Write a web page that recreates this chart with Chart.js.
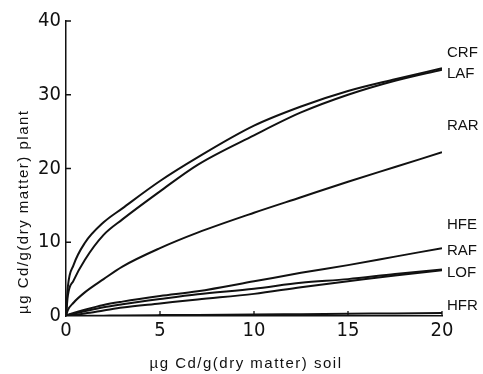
<!DOCTYPE html>
<html>
<head>
<meta charset="utf-8">
<script src="https://cdn.jsdelivr.net/npm/chart.js@4/dist/chart.umd.min.js"></script>
<style>
  html, body { margin: 0; padding: 0; background: #fff; }
  #wrap { width: 483px; height: 374px; }
</style>
</head>
<body>
<div id="wrap"><canvas id="cd-chart"></canvas></div>
<script>
// soil Cd (x) and plant Cd (y)
const soilCd = [0, 0.1, 0.4, 1, 2, 3, 5, 7, 10, 12.5, 15, 17.5, 20];
const seriesNames = ['CRF', 'LAF', 'RAR', 'HFE', 'RAF', 'LOF', 'HFR'];
const crf = [0, 4.0, 6.9, 9.9, 12.7, 14.6, 18.3, 21.5, 25.8, 28.4, 30.5, 32.1, 33.6];
const laf = [0, 2.8, 4.8, 7.6, 11.0, 13.1, 16.9, 20.5, 24.5, 27.6, 30.0, 31.9, 33.4];
const rar = [0, 0.8, 1.8, 3.2, 5.0, 6.7, 9.2, 11.3, 14.0, 16.1, 18.2, 20.2, 22.2];
const hfe = [0, 0.15, 0.4, 0.85, 1.5, 1.95, 2.7, 3.35, 4.7, 5.85, 6.9, 8.05, 9.2];
const raf = [0, 0.1, 0.3, 0.65, 1.2, 1.6, 2.3, 2.95, 3.7, 4.5, 5.0, 5.7, 6.3];
const lof = [0, 0.05, 0.15, 0.35, 0.75, 1.15, 1.7, 2.25, 3.0, 3.9, 4.7, 5.5, 6.2];
const hfr = [0, 0, 0, 0.02, 0.05, 0.08, 0.12, 0.15, 0.2, 0.25, 0.3, 0.35, 0.4];
const allSeries = [crf, laf, rar, hfe, raf, lof, hfr];

const xTicks = [0, 5, 10, 15, 20];
const yTicks = [0, 10, 20, 30, 40];
const xTitle = 'µg Cd/g(dry matter) soil';
const yTitle = 'µg Cd/g(dry matter) plant';
// where the end labels sit, in y units
const labelY = [35.7, 32.9, 25.8, 12.3, 8.9, 5.9, 1.4];

const INK = '#111';
const TICK_FONT = "'DejaVu Sans Condensed', 'Liberation Sans Narrow', sans-serif";
const TEXT_FONT = "'Liberation Sans', Arial, sans-serif";

/**
 * inward axis ticks, axis titles and the curve names at the right end
 */
const decorations = {
    id: 'decorations',
    afterDraw(chart) {
        const ctx = chart.ctx;
        const xs = chart.scales.x;
        const ys = chart.scales.y;
        const left = xs.getPixelForValue(0);
        const bottom = ys.getPixelForValue(0);

        ctx.save();
        ctx.strokeStyle = INK;
        ctx.lineWidth = 1.3;
        ctx.beginPath();
        for (let i = 1; i < yTicks.length; i++) {
            const py = ys.getPixelForValue(yTicks[i]);
            ctx.moveTo(left, py);
            ctx.lineTo(left + 5, py);
        }
        for (let i = 1; i < xTicks.length; i++) {
            const px = xs.getPixelForValue(xTicks[i]);
            ctx.moveTo(px, bottom);
            ctx.lineTo(px, bottom - 5);
        }
        ctx.stroke();

        ctx.fillStyle = INK;
        ctx.font = '15px ' + TEXT_FONT;
        ctx.textBaseline = 'middle';

        // curve names
        ctx.textAlign = 'left';
        const lx = xs.getPixelForValue(20) + 5;
        for (let i = 0; i < seriesNames.length; i++) {
            ctx.fillText(seriesNames[i], lx, ys.getPixelForValue(labelY[i]));
        }

        // axis titles, spaced out like the original lettering
        ctx.letterSpacing = '1.5px';
        ctx.textAlign = 'center';
        ctx.fillText(xTitle, (xs.left + xs.right) / 2 - 8, bottom + 48);

        ctx.translate(24, bottom - 2);
        ctx.rotate(-Math.PI / 2);
        ctx.textAlign = 'left';
        ctx.fillText(yTitle, 0, 0);
        ctx.restore();
    }
};

function buildDatasets() {
    let sets = [];
    for (let i = 0; i < seriesNames.length; i++) {
        sets.push({
            label: seriesNames[i],
            data: soilCd.map((x, j) => ({ x: x, y: allSeries[i][j] })),
            borderColor: INK,
            borderWidth: 2,
            pointRadius: 0,
            cubicInterpolationMode: 'monotone',
            fill: false
        });
    }
    return sets;
}

const ctx = document.getElementById('cd-chart');
const cdChart = new Chart(ctx, {
    type: 'line',
    data: { datasets: buildDatasets() },
    options: {
        responsive: true,
        maintainAspectRatio: false,
        animation: false,
        layout: { padding: { top: 21, right: 41, left: 0, bottom: 0 } },
        plugins: { legend: { display: false }, tooltip: { enabled: false } },
        scales: {
            x: {
                type: 'linear',
                min: 0,
                max: 20,
                afterFit: (scale) => { scale.height = 58; },
                afterBuildTicks: (scale) => { scale.ticks = xTicks.map(v => ({ value: v })); },
                grid: { display: false, drawTicks: false },
                border: { display: true, color: INK, width: 1.5 },
                ticks: { color: INK, padding: 3, maxRotation: 0, font: { family: TICK_FONT, size: 20 } }
            },
            y: {
                type: 'linear',
                min: 0,
                max: 40,
                afterFit: (scale) => { scale.width = 66; },
                afterBuildTicks: (scale) => { scale.ticks = yTicks.map(v => ({ value: v })); },
                grid: { display: false, drawTicks: false },
                border: { display: true, color: INK, width: 1.5 },
                ticks: { color: INK, padding: 5, font: { family: TICK_FONT, size: 20 } }
            }
        }
    },
    plugins: [decorations]
});
</script>
</body>
</html>
